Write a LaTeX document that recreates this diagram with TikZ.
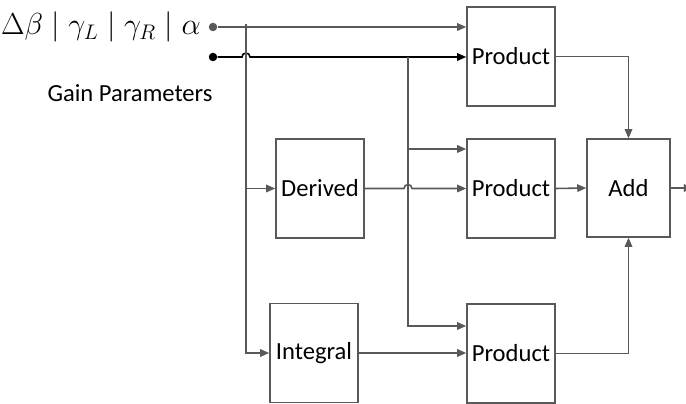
\documentclass[tikz,border=0pt]{standalone}
\usepackage{fontspec}
\setmainfont{Carlito}
\usetikzlibrary{arrows.meta,calc}
\definecolor{wiregray}{HTML}{595959}
\begin{document}
\begin{tikzpicture}[x=0.02cm,y=-0.02cm,font=\fontsize{14}{16}\selectfont,
  block/.style={draw=wiregray,line width=0.9pt,minimum width=1.76cm,minimum height=1.98cm,inner sep=0pt,text=black},
  wire/.style={wiregray,line width=0.9pt},
  tip/.style={-{Triangle[length=0.18cm,width=0.15cm]}},
  dot/.style={circle,fill,inner sep=0pt,minimum size=0.17cm}]
  \useasboundingbox (0,0) rectangle (686,404);
  % blocks
  \node[block] (prodA) at (511,56.5) {Product};
  \node[block] (prodB) at (511,188.5) {Product};
  \node[block] (prodC) at (511,353.5) {Product};
  \node[block] (deriv) at (320,188.5) {Derived};
  \node[block] (integ) at (314,353) {Integral};
  \node[block,minimum width=1.66cm,minimum height=1.96cm] (add) at (628.5,188) {Add};
  % inputs
  \node[dot,wiregray] (inA) at (213,27) {};
  \node[dot,black] (inB) at (213,57) {};
  \node[anchor=east,inner sep=0pt,font=\fontsize{17}{20}\selectfont] (sig) at (201,27) {$\Delta\beta\;|\;\gamma_L\;|\;\gamma_R\;|\;\alpha$};
  \node (gain) at (130,93) {Gain Parameters};
  \coordinate (tapA) at (246,24);
  \coordinate (tapB) at (408,57);
  % connectors
  \draw[wire,tip] (inA) -- (inA -| prodA.west);
  \draw[line width=0.9pt,tip] (inB) -- ($(tapA |- inB)+(-4,0)$) arc[start angle=180,end angle=0,radius=0.08cm] -- (inB -| prodA.west);
  \draw[wire,tip] (tapA) |- (integ.west);
  \draw[wire,tip] (tapA |- deriv.west) -- (deriv.west);
  \draw[wire,tip] (tapB) |- ($(prodC.west)+(0,-27.5)$);
  \draw[wire,tip] (tapB |- 0,149) -- (prodB.west |- 0,149);
  \draw[wire,tip] (deriv.east) -- ($(tapB |- deriv.east)+(-4,0)$) arc[start angle=180,end angle=0,radius=0.08cm] -- (prodB.west);
  \draw[wire,tip] (integ.east) -- (integ.east -| prodC.west);
  \draw[wire,tip] (prodA.east) -| (add.north);
  \draw[wire,tip] (prodC.east) -| (add.south);
  \draw[wire,tip] (prodB.east) -- (add.west);
  \draw[wire,tip] (add.east) -- ++(22,0);
\end{tikzpicture}
\end{document}
